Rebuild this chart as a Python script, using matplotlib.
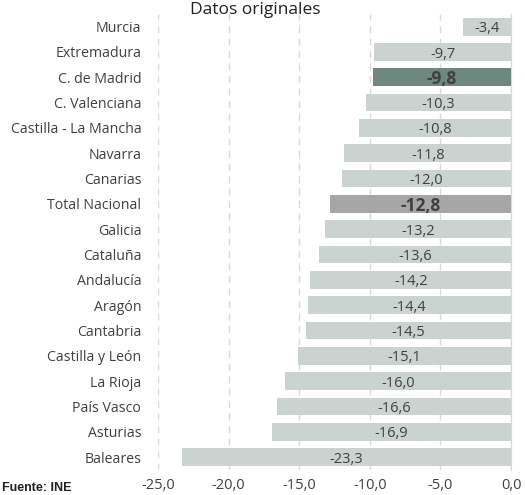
import matplotlib
matplotlib.use("Agg")
import matplotlib.pyplot as plt

regions = ["Murcia", "Extremadura", "C. de Madrid", "C. Valenciana", "Castilla - La Mancha",
           "Navarra", "Canarias", "Total Nacional", "Galicia", "Cataluña", "Andalucía",
           "Aragón", "Cantabria", "Castilla y León", "La Rioja", "País Vasco", "Asturias", "Baleares"]
values = [-3.4, -9.7, -9.8, -10.3, -10.8, -11.8, -12.0, -12.8, -13.2, -13.6, -14.2,
          -14.4, -14.5, -15.1, -16.0, -16.6, -16.9, -23.3]
ticks = [-25, -20, -15, -10, -5, 0]

plt.rcParams['font.family'] = ['Open Sans', 'DejaVu Sans']

fig = plt.figure(figsize=(5.25, 4.95), dpi=100)
ax = fig.add_axes([158/525, 1-469.7/495, (511-158)/525, (469.7-14)/495])

colors = []
for r in regions:
    if r == "C. de Madrid":
        colors.append("#6E877F")
    elif r == "Total Nacional":
        colors.append("#A6A6A6")
    else:
        colors.append("#CAD3CF")

y = list(range(len(regions)))
ax.barh(y, values, height=0.7, color=colors, zorder=2)
ax.set_ylim(len(regions) - 0.5, -0.5)
ax.set_xlim(-25, 0)

for yi, v, r in zip(y, values, regions):
    bold = r in ("C. de Madrid", "Total Nacional")
    ax.text(v/2, yi + 0.08, f"{v:.1f}".replace(".", ","), ha="center", va="center",
            fontsize=12.5 if bold else 10.5, fontweight="bold" if bold else "normal",
            color="#404040", zorder=3)

ax.set_yticks(y)
ax.set_yticklabels(regions, fontsize=10.2, color="#404040")
ax.set_xticks(ticks)
ax.set_xticklabels([f"{t:.1f}".replace(".", ",") for t in ticks], fontsize=10.5, color="#404040")
ax.tick_params(axis="y", length=0, pad=12)
ax.tick_params(axis="x", length=0, pad=6)
ax.grid(axis="x", linestyle=(0, (5, 4)), color="#D9D9D9", linewidth=1, zorder=0)
for s in ["top", "left", "bottom"]:
    ax.spines[s].set_visible(False)
ax.spines["right"].set_color("#D9D9D9")
ax.spines["right"].set_zorder(1)

fig.text(255/525, 1-14/495, "Datos originales", ha="center", va="baseline", fontsize=12.5, color="#202020")
fig.text(2/525, 1-491/495, "Fuente: INE", ha="left", va="baseline", fontsize=9,
         fontweight="bold", family=["Liberation Sans", "DejaVu Sans"], color="#202020")

fig.savefig("out.png", dpi=100)
